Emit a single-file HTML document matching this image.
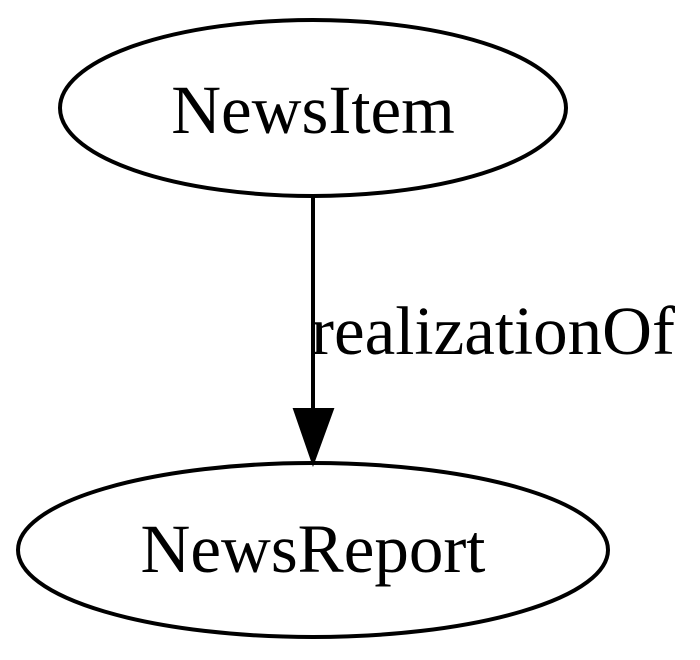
<!DOCTYPE html>
<html><head><meta charset="utf-8"><style>html,body{margin:0;padding:0;background:#fff;width:700px;height:660px;overflow:hidden}</style></head>
<body>
<svg width="700" height="660" viewBox="0 0 700 660" xmlns="http://www.w3.org/2000/svg">
<g fill="none" stroke="#000" stroke-width="4">
<ellipse cx="313" cy="108" rx="253" ry="88"/>
<ellipse cx="313" cy="550" rx="295" ry="87"/>
<line x1="313" y1="197" x2="313" y2="412"/>
</g>
<polygon points="294,409 333,409 313,464" fill="#000" stroke="#000" stroke-width="2"/>
<g font-family="'Liberation Serif', serif" font-size="69" fill="#000">
<text x="313" y="133" text-anchor="middle">NewsItem</text>
<text x="313" y="572" text-anchor="middle">NewsReport</text>
<text x="311" y="354">realizationOf</text>
</g>
</svg>
</body></html>
